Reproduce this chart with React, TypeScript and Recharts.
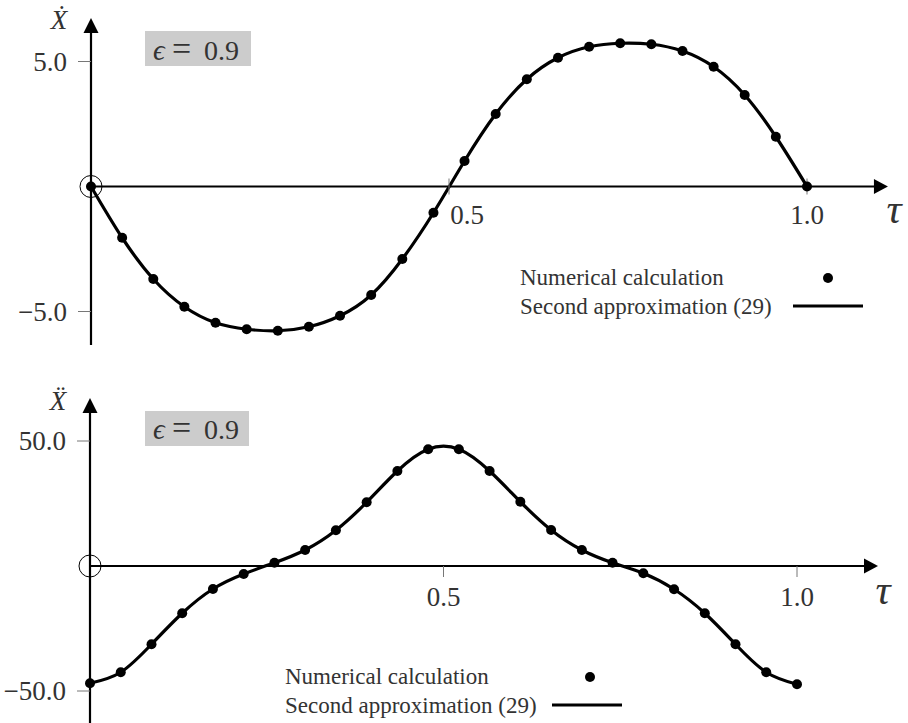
import React from "react";
import {
  ComposedChart,
  Line,
  XAxis,
  YAxis,
  ReferenceLine,
  ReferenceDot,
} from "recharts";

// tau sample points (24 samples over one period)
const tau = [
  0, 0.0435, 0.087, 0.1304, 0.1739, 0.2174, 0.2609, 0.3043, 0.3478, 0.3913,
  0.4348, 0.4783, 0.5217, 0.5652, 0.6087, 0.6522, 0.6957, 0.7391, 0.7826,
  0.8261, 0.8696, 0.913, 0.9565, 1.0,
];

// velocity X-dot
const velocity = [
  0, -2.05, -3.7, -4.81, -5.45, -5.71, -5.77, -5.61, -5.17, -4.34, -2.9, -1.05,
  1.02, 2.9, 4.29, 5.15, 5.59, 5.73, 5.69, 5.42, 4.79, 3.66, 1.99, 0,
];

// acceleration X-double-dot
const acceleration = [
  -46.9, -42.5, -31.3, -18.9, -9.2, -3.2, 1.3, 6.4, 14.3, 25.5, 38.0, 46.7,
  46.7, 38.0, 25.7, 14.4, 6.4, 1.3, -2.9, -9.3, -18.9, -31.3, -42.5, -47.3,
];

const tauTicks = [0.5, 1.0];
const tauTickLabels = ["0.5", "1.0"];
const velocityTicks = [5, -5];
const velocityTickLabels = ["5.0", "\u22125.0"];
const accelTicks = [50, -50];
const accelTickLabels = ["50.0", "\u221250.0"];
const legendLabels = ["Numerical calculation", "Second approximation (29)"];
const epsilonValue = "0.9";

const W = 908;
const SERIF = '"Liberation Serif", "DejaVu Serif", serif';
const INK = "#333";

type PanelProps = {
  values: number[];
  height: number;
  x0: number; // px of tau = 0
  x1: number; // px of tau = 1
  zeroY: number; // px of value 0
  ppu: number; // px per value unit
  yBottom: number;
  yTip: number;
  xTip: number;
  yTicks: number[];
  yTickLabels: string[];
  xLabelDx: number[];
  xLabelDy: number;
  xTickUp: number;
  xTickDown: number;
  yName: string;
  yNameDy: number;
  tauDx: number;
  tauDy: number;
  box: { x: number; y: number; w: number; h: number; base: number };
  legend: { x: number; y1: number; y2: number; dotX: number; lx1: number; lx2: number };
};

function Panel(p: PanelProps) {
  const data = tau.map((t, i) => ({ t, v: p.values[i] }));
  const span = p.x1 - p.x0;
  const xMin = -p.x0 / span;
  const xMax = (W - p.x0) / span;
  const yMax = p.zeroY / p.ppu;
  const yMin = -(p.height - p.zeroY) / p.ppu;

  const arrowUp = (s: any) => (
    <polygon
      points={`${s.cx},${s.cy} ${s.cx - 7.5},${s.cy + 15} ${s.cx + 7.5},${s.cy + 15}`}
      fill="#000"
    />
  );
  const arrowRight = (s: any) => (
    <polygon
      points={`${s.cx},${s.cy} ${s.cx - 14},${s.cy - 7.5} ${s.cx - 14},${s.cy + 7.5}`}
      fill="#000"
    />
  );

  return (
    <div style={{ position: "relative", width: W, height: p.height }}>
      <ComposedChart
        width={W}
        height={p.height}
        data={data}
        margin={{ top: 0, right: 0, bottom: 0, left: 0 }}
      >
        <XAxis type="number" dataKey="t" domain={[xMin, xMax]} allowDataOverflow hide />
        <YAxis type="number" domain={[yMin, yMax]} allowDataOverflow hide />

        {/* axes */}
        <ReferenceLine
          segment={[{ x: 0, y: p.yBottom }, { x: 0, y: p.yTip - 12 / p.ppu }]}
          stroke="#000"
          strokeWidth={2.2}
        />
        <ReferenceDot x={0} y={p.yTip} shape={arrowUp} />
        <ReferenceLine
          segment={[{ x: 0, y: 0 }, { x: p.xTip - 12 / span, y: 0 }]}
          stroke="#000"
          strokeWidth={2.2}
        />
        <ReferenceDot x={p.xTip} y={0} shape={arrowRight} />

        {/* axis names */}
        <ReferenceDot
          x={0}
          y={p.yTip}
          shape={(s: any) => (
            <text
              x={s.cx - 32}
              y={s.cy + p.yNameDy}
              textAnchor="middle"
              fontFamily={SERIF}
              fontStyle="italic"
              fontSize={27}
              fill={INK}
            >
              {p.yName}
            </text>
          )}
        />
        <ReferenceDot
          x={p.xTip}
          y={0}
          shape={(s: any) => (
            <text
              x={s.cx + p.tauDx}
              y={s.cy + p.tauDy}
              textAnchor="middle"
              fontFamily={SERIF}
              fontStyle="italic"
              fontSize={42}
              fill={INK}
            >
              τ
            </text>
          )}
        />

        {/* y ticks */}
        {p.yTicks.map((v, i) => (
          <ReferenceDot
            key={`y${i}`}
            x={0}
            y={v}
            shape={(s: any) => (
              <g>
                <line x1={s.cx - 13} x2={s.cx} y1={s.cy} y2={s.cy} stroke="#777" strokeWidth={1} />
                <text
                  x={s.cx - 24}
                  y={s.cy + 9}
                  textAnchor="end"
                  fontFamily={SERIF}
                  fontSize={27}
                  fill={INK}
                >
                  {p.yTickLabels[i]}
                </text>
              </g>
            )}
          />
        ))}

        {/* tau ticks */}
        {tauTicks.map((t, i) => (
          <ReferenceDot
            key={`x${i}`}
            x={t}
            y={0}
            shape={(s: any) => (
              <g>
                <line
                  x1={s.cx}
                  x2={s.cx}
                  y1={s.cy - p.xTickUp}
                  y2={s.cy + p.xTickDown}
                  stroke="#777"
                  strokeWidth={1}
                />
                <text
                  x={s.cx + p.xLabelDx[i]}
                  y={s.cy + p.xLabelDy}
                  textAnchor="middle"
                  fontFamily={SERIF}
                  fontSize={27}
                  fill={INK}
                >
                  {tauTickLabels[i]}
                </text>
              </g>
            )}
          />
        ))}

        {/* origin marker */}
        <ReferenceDot x={0} y={0} r={11} fill="none" stroke="#000" strokeWidth={1} />

        <Line
          dataKey="v"
          type="natural"
          stroke="#000"
          strokeWidth={3.2}
          dot={{ r: 5, fill: "#000", stroke: "#000", strokeWidth: 0 }}
          activeDot={false}
          isAnimationActive={false}
        />
      </ComposedChart>

      <svg
        width={W}
        height={p.height}
        style={{ position: "absolute", left: 0, top: 0, pointerEvents: "none" }}
      >
        <rect x={p.box.x} y={p.box.y} width={p.box.w} height={p.box.h} fill="#cccccc" />
        <text x={p.box.x + 8} y={p.box.base} fontFamily={SERIF} fontStyle="italic" fontSize={29} fill={INK}>
          ϵ
        </text>
        <text x={p.box.x + 27} y={p.box.base} fontFamily={SERIF} fontSize={34} fill={INK}>
          =
        </text>
        <text x={p.box.x + 59} y={p.box.base} fontFamily={SERIF} fontSize={28} fill={INK}>
          {epsilonValue}
        </text>

        <text x={p.legend.x} y={p.legend.y1} fontFamily={SERIF} fontSize={23} fill={INK}>
          {legendLabels[0]}
        </text>
        <text x={p.legend.x} y={p.legend.y2} fontFamily={SERIF} fontSize={23} fill={INK}>
          {legendLabels[1]}
        </text>
        <circle cx={p.legend.dotX} cy={p.legend.y1 - 7} r={5} fill="#000" />
        <line
          x1={p.legend.lx1}
          x2={p.legend.lx2}
          y1={p.legend.y2 - 8}
          y2={p.legend.y2 - 8}
          stroke="#000"
          strokeWidth={3}
        />
      </svg>
    </div>
  );
}

export default function App() {
  return (
    <div style={{ position: "absolute", left: 0, top: 0, width: W, height: 723, background: "#fff" }}>
      <Panel
        values={velocity}
        height={361}
        x0={91}
        x1={807}
        zeroY={186.5}
        ppu={25}
        yBottom={-6.34}
        yTip={6.74}
        xTip={1.113}
        yTicks={velocityTicks}
        yTickLabels={velocityTickLabels}
        xLabelDx={[18, 0]}
        xLabelDy={37.5}
        xTickUp={8}
        xTickDown={8}
        yName={"\u1E8A"}
        yNameDy={11}
        tauDx={6}
        tauDy={36}
        box={{ x: 145, y: 31, w: 106, h: 35, base: 60 }}
        legend={{ x: 520, y1: 285, y2: 314, dotX: 828, lx1: 793, lx2: 863 }}
      />
      <Panel
        values={acceleration}
        height={362}
        x0={90}
        x1={797}
        zeroY={205}
        ppu={2.5}
        yBottom={-62.8}
        yTip={67.2}
        xTip={1.1146}
        yTicks={accelTicks}
        yTickLabels={accelTickLabels}
        xLabelDx={[0, 0]}
        xLabelDy={40}
        xTickUp={0}
        xTickDown={11}
        yName={"\u1E8C"}
        yNameDy={12}
        tauDx={5}
        tauDy={38}
        box={{ x: 145, y: 50, w: 104, h: 35, base: 78 }}
        legend={{ x: 285, y1: 323, y2: 352, dotX: 590, lx1: 552, lx2: 622 }}
      />
    </div>
  );
}
